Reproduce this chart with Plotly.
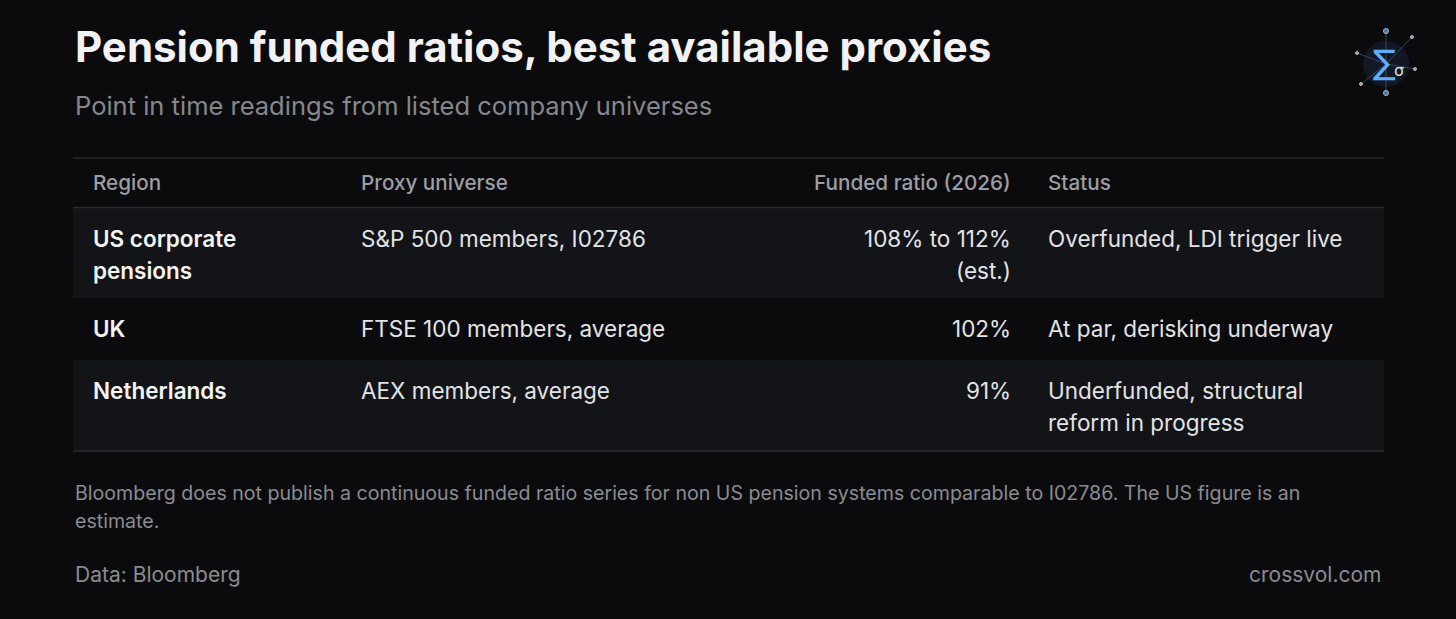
import plotly.graph_objects as go

title = "Pension funded ratios, best available proxies"
subtitle = "Point in time readings from listed company universes"
headers = ["Region", "Proxy universe", "Funded ratio (2026)", "Status"]
regions = [["US corporate", "pensions"], ["UK"], ["Netherlands"]]
proxies = [["S&P 500 members, I02786"], ["FTSE 100 members, average"], ["AEX members, average"]]
ratios = [["108% to 112%", "(est.)"], ["102%"], ["91%"]]
statuses = [["Overfunded, LDI trigger live"], ["At par, derisking underway"], ["Underfunded, structural", "reform in progress"]]
footnote = ["Bloomberg does not publish a continuous funded ratio series for non US pension systems comparable to I02786. The US figure is an",
            "estimate."]
source = "Data: Bloomberg"
brand = "crossvol.com"

W, H = 1456, 619
BG = "#0b0b0e"
ROWBG = "#131418"
LINE = "#2a2b30"
FONT = "Inter, Noto Sans, sans-serif"

fig = go.Figure()
shapes, ann = [], []

def txt(x, y, s, size, color, anchor="left", weight=400):
    ann.append(dict(x=x, y=y, xref="x", yref="y", text=s, showarrow=False,
                    xanchor=anchor, yanchor="middle",
                    font=dict(family=FONT, size=size, color=color, weight=weight)))

txt(73, 46, title, 42, "#f2f2f3", weight=700)
txt(73, 105, subtitle, 25.5, "#85878d")

L, R = 73, 1384
row_bounds = [(208, 298), (298, 360), (360, 451)]
fills = [True, False, True]
for (y0, y1), f in zip(row_bounds, fills):
    if f:
        shapes.append(dict(type="rect", xref="x", yref="y", x0=L, x1=R, y0=y0, y1=y1,
                           fillcolor=ROWBG, line=dict(width=0), layer="below"))
for y in (158, 207.5, 451):
    shapes.append(dict(type="line", xref="x", yref="y", x0=L, x1=R, y0=y, y1=y,
                       line=dict(color=LINE, width=1.3)))

hx = [(91, "left"), (359, "left"), (1013, "right"), (1046, "left")]
for (x, a), h in zip(hx, headers):
    txt(x, 182, h, 20.7, "#9c9ea4", a, weight=500)

LH = 32
for i, (y0, y1) in enumerate(row_bounds):
    ytop = y0 + 30
    cols = [regions[i], proxies[i], ratios[i], statuses[i]]
    for c, ((x, a), lines) in enumerate(zip(hx, cols)):
        for k, s in enumerate(lines):
            txt(x, ytop + k * LH, s, 22.5, "#f4f4f5" if c == 0 else "#e2e3e6", a,
                weight=600 if c == 0 else 400)

for k, s in enumerate(footnote):
    txt(73, 493 + k * 28, s, 19.6, "#8a8c92")
txt(73, 574, source, 21, "#8a8c92")
txt(1383, 574, brand, 21, "#8a8c92", "right")

# logo
cx, cy = 1386, 64
sats_x = [1386, 1412, 1357, 1415, 1361, 1386]
sats_y = [31, 37, 53, 69, 84, 93]
for sx, sy in zip(sats_x, sats_y):
    fig.add_trace(go.Scatter(x=[cx, sx], y=[cy, sy], mode="lines",
                             line=dict(color="rgba(140,170,210,0.35)", width=1),
                             hoverinfo="skip", showlegend=False))
fig.add_trace(go.Scatter(x=[cx], y=[cy], mode="markers",
                         marker=dict(size=46, color="rgba(60,110,170,0.15)"),
                         hoverinfo="skip", showlegend=False))
fig.add_trace(go.Scatter(x=sats_x, y=sats_y, mode="markers",
                         marker=dict(size=[5, 3, 3, 3, 3, 5],
                                     color=["#4aa3ff", "#c8d0dc", "#c8d0dc", "#c8d0dc", "#c8d0dc", "#4aa3ff"]),
                         hoverinfo="skip", showlegend=False))
ann.append(dict(x=1384, y=62, xref="x", yref="y", text="∑", showarrow=False,
                font=dict(family="DejaVu Sans", size=34, color="#5eb0ff")))
ann.append(dict(x=1399, y=70, xref="x", yref="y", text="σ", showarrow=False,
                font=dict(family="DejaVu Sans", size=16, color="#d8dde5")))

fig.update_layout(
    width=W, height=H, paper_bgcolor=BG, plot_bgcolor=BG,
    margin=dict(l=0, r=0, t=0, b=0),
    xaxis=dict(range=[0, W], visible=False, fixedrange=True),
    yaxis=dict(range=[H, 0], visible=False, fixedrange=True),
    shapes=shapes, annotations=ann, showlegend=False,
)
fig.write_html("out.html", config={"displayModeBar": False})
with open("out.html", encoding="utf-8") as f:
    html = f.read()
html = html.replace("<body>", '<body style="margin:0;background:#0b0b0e;overflow:hidden">', 1)
with open("out.html", "w", encoding="utf-8") as f:
    f.write(html)
